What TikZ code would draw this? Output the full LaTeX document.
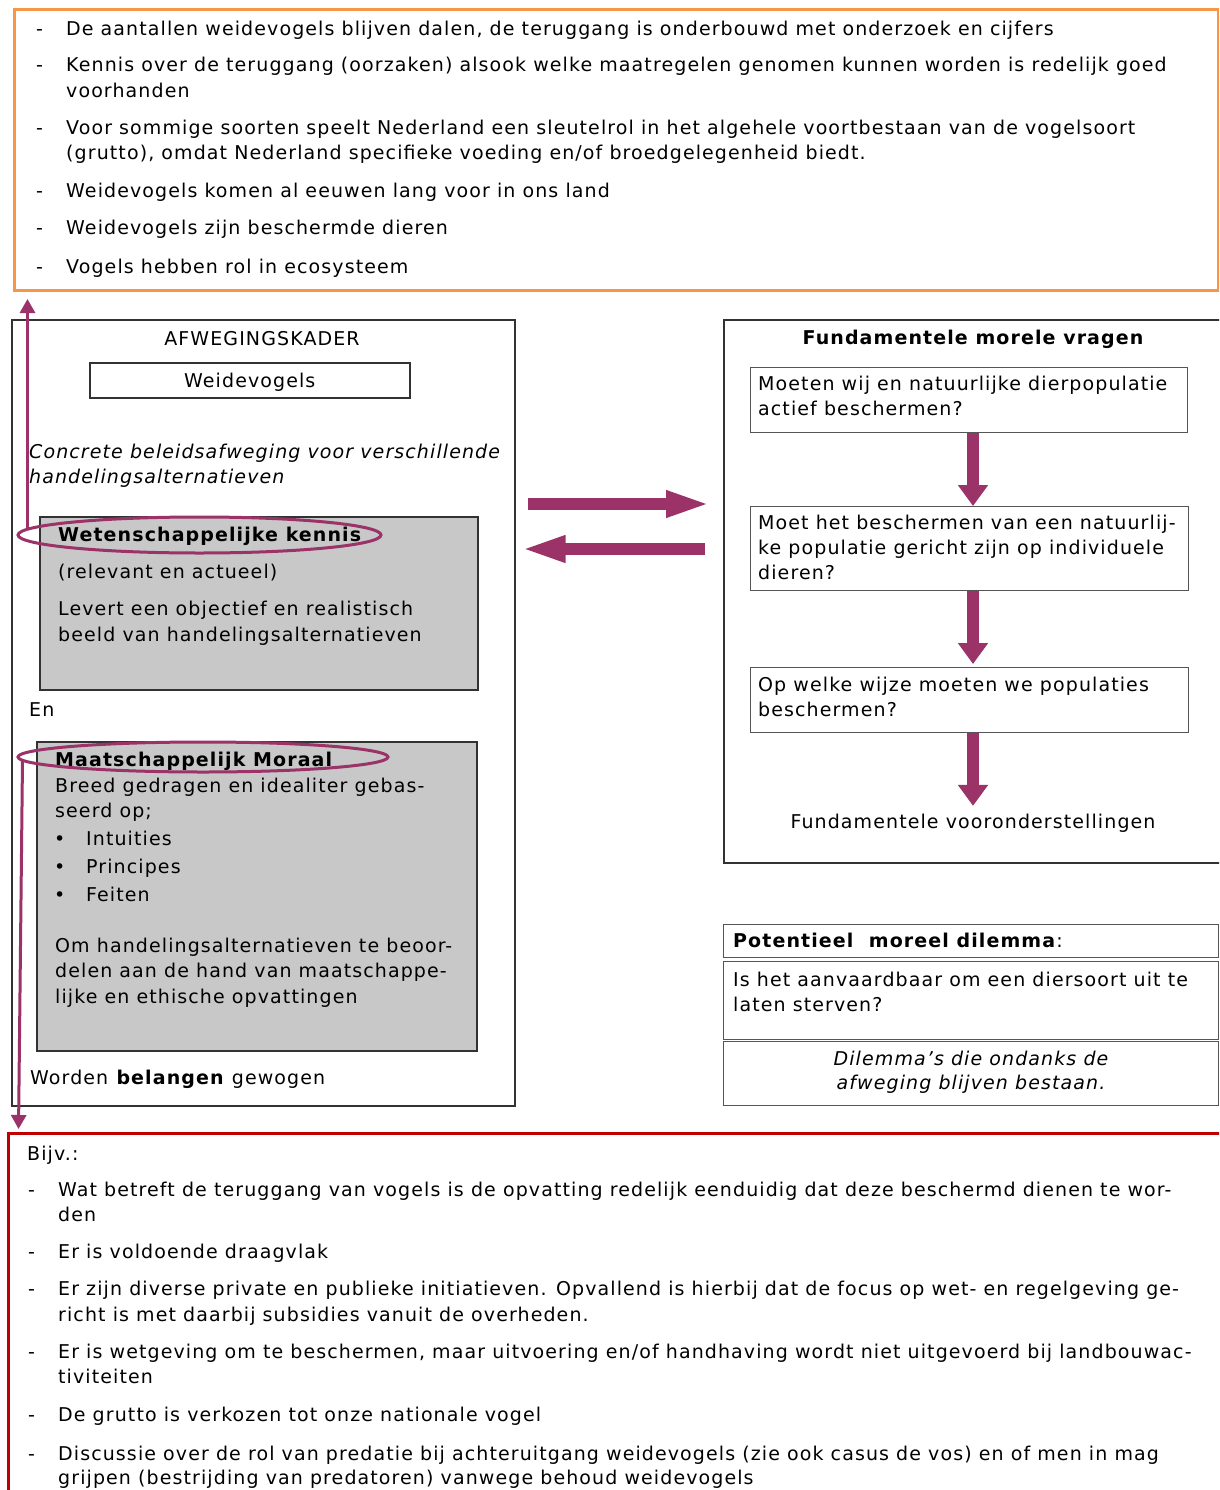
\documentclass[tikz,border=0pt]{standalone}
\usepackage{fontspec}
\setmainfont{DejaVu Sans}[LetterSpace=5.8]
\usetikzlibrary{arrows.meta,shapes.geometric,calc}
\definecolor{orangeb}{RGB}{247,150,70}
\definecolor{redb}{RGB}{192,0,0}
\definecolor{plum}{RGB}{155,50,104}
\definecolor{boxgray}{RGB}{200,200,200}
\definecolor{edgedark}{RGB}{50,50,50}
\definecolor{edgegray}{RGB}{85,85,85}
\newcommand{\tline}[4]{\node[txt] (#1) at (#2,#3) {#4};}
\begin{document}
\begin{tikzpicture}[x=1pt,y=-1pt,
  txt/.style={anchor=west, inner sep=0pt, text height=13.9pt, text depth=0pt, font=\fontsize{19}{25}\selectfont},
  ctxt/.style={txt, anchor=center},
  frame/.style={draw, anchor=north west, inner sep=0pt},
  graybox/.style={frame, draw=edgedark, fill=boxgray, line width=1.5pt},
  qbox/.style={frame, draw=edgegray, line width=1.3pt},
  ring/.style={ellipse, draw=plum, line width=3pt, inner sep=0pt},
  thinarrow/.style={draw=plum, line width=3pt, -{Triangle[length=14pt,width=15pt]}},
  blockh/.style={draw=plum, line width=12pt, -{Triangle[length=45pt,width=24pt]}},
  blockv/.style={draw=plum, line width=12pt, -{Triangle[length=21pt,width=29pt]}}
]
\useasboundingbox (0,0) rectangle (1219,1490);
\clip (0,0) rectangle (1219,1490);

% ---------- outer frames ----------
\node[frame, draw=orangeb, line width=3pt, minimum width=1204pt, minimum height=281pt] (obox) at (13,8) {};
\node[frame, draw=redb, line width=3pt, minimum width=1240pt, minimum height=400pt] (rbox) at (7,1132) {};
\node[frame, draw=edgedark, line width=1.5pt, minimum width=503pt, minimum height=786pt] (lbox) at (11,319) {};
\node[frame, draw=edgedark, line width=1.5pt, minimum width=520pt, minimum height=543pt] (fbox) at (723,319) {};

% ---------- left box content ----------
\node[frame, draw=edgedark, line width=1.5pt, minimum width=320pt, minimum height=35pt] (wbox) at (89,362) {};
\node[graybox, minimum width=438pt, minimum height=173pt] (g1) at (39,516) {};
\node[graybox, minimum width=440pt, minimum height=309pt] (g2) at (36,741) {};

% ---------- right box content ----------
\node[qbox, minimum width=437pt, minimum height=65pt] (q1) at (750,367) {};
\node[qbox, minimum width=438pt, minimum height=84pt] (q2) at (750,506) {};
\node[qbox, minimum width=438pt, minimum height=65pt] (q3) at (750,667) {};

% ---------- dilemma boxes ----------
\node[qbox, minimum width=495pt, minimum height=33pt] (dA) at (723,924) {};
\node[qbox, minimum width=495pt, minimum height=78pt] (dB) at (723,961) {};
\node[qbox, minimum width=495pt, minimum height=64pt] (dC) at (723,1041) {};

% ---------- orange box text ----------
\tline{od1}{36}{29}{-}
\tline{ot1}{66}{29}{De aantallen weidevogels blijven dalen, de teruggang is onderbouwd met onderzoek en cijfers}
\tline{od2}{36}{65}{-}
\tline{ot2}{66}{65}{Kennis over de teruggang (oorzaken) alsook welke maatregelen genomen kunnen worden is redelijk goed}
\tline{ot2b}{66}{91}{voorhanden}
\tline{od3}{36}{128}{-}
\tline{ot3}{66}{128}{Voor sommige soorten speelt Nederland een sleutelrol in het algehele voortbestaan van de vogelsoort}
\tline{ot3b}{66}{153}{(grutto), omdat Nederland specifieke voeding en/of broedgelegenheid biedt.}
\tline{od4}{36}{191}{-}
\tline{ot4}{66}{191}{Weidevogels komen al eeuwen lang voor in ons land}
\tline{od5}{36}{228}{-}
\tline{ot5}{66}{228}{Weidevogels zijn beschermde dieren}
\tline{od6}{36}{267}{-}
\tline{ot6}{66}{267}{Vogels hebben rol in ecosysteem}

% ---------- left box text ----------
\node[ctxt] (afw) at (262,339) {AFWEGINGSKADER};
\node[ctxt] (wv) at (wbox.center) {Weidevogels};
\tline{it1}{29}{452}{\itshape Concrete beleidsafweging voor verschillende}
\tline{it2}{29}{477}{\itshape handelingsalternatieven}
\tline{wk1}{58}{535}{\bfseries Wetenschappelijke kennis}
\tline{wk2}{58}{572}{(relevant en actueel)}
\tline{wk3}{58}{609}{Levert een objectief en realistisch}
\tline{wk4}{58}{635}{beeld van handelingsalternatieven}
\tline{en}{29}{710}{En}
\tline{mm1}{55}{760}{\bfseries Maatschappelijk Moraal}
\tline{mm2}{55}{786}{Breed gedragen en idealiter gebas-}
\tline{mm3}{55}{811}{seerd op;}
\tline{b1}{54}{839}{•}
\tline{mb1}{86}{839}{Intuities}
\tline{b2}{54}{867}{•}
\tline{mb2}{86}{867}{Principes}
\tline{b3}{54}{895}{•}
\tline{mb3}{86}{895}{Feiten}
\tline{mm4}{55}{946}{Om handelingsalternatieven te beoor-}
\tline{mm5}{55}{971}{delen aan de hand van maatschappe-}
\tline{mm6}{55}{997}{lijke en ethische opvattingen}
\tline{wg}{30}{1078}{Worden \textbf{belangen} gewogen}

% ---------- right box text ----------
\node[ctxt] (fmv) at (973,338) {\bfseries Fundamentele morele vragen};
\tline{q1a}{758}{384}{Moeten wij en natuurlijke dierpopulatie}
\tline{q1b}{758}{409}{actief beschermen?}
\tline{q2a}{758}{523}{Moet het beschermen van een natuurlij-}
\tline{q2b}{758}{548}{ke populatie gericht zijn op individuele}
\tline{q2c}{758}{573}{dieren?}
\tline{q3a}{758}{685}{Op welke wijze moeten we populaties}
\tline{q3b}{758}{710}{beschermen?}
\node[ctxt] (fv) at (973,822) {Fundamentele vooronderstellingen};

\tline{dAt}{733}{941}{\textbf{Potentieel\ \ moreel dilemma}:}
\tline{dBa}{733}{980}{Is het aanvaardbaar om een diersoort uit te}
\tline{dBb}{733}{1005}{laten sterven?}
\node[ctxt] (dCa) at (971,1059) {\itshape Dilemma’s die ondanks de};
\node[ctxt] (dCb) at (971,1083) {\itshape afweging blijven bestaan.};

% ---------- red box text ----------
\tline{bijv}{27}{1154}{Bijv.:}
\tline{rd1}{28}{1190}{-}
\tline{rt1}{58}{1190}{Wat betreft de teruggang van vogels is de opvatting redelijk eenduidig dat deze beschermd dienen te wor-}
\tline{rt1b}{58}{1215}{den}
\tline{rd2}{28}{1252}{-}
\tline{rt2}{58}{1252}{Er is voldoende draagvlak}
\tline{rd3}{28}{1289}{-}
\tline{rt3}{58}{1289}{Er zijn diverse private en publieke initiatieven. Opvallend is hierbij dat de focus op wet- en regelgeving ge-}
\tline{rt3b}{58}{1315}{richt is met daarbij subsidies vanuit de overheden.}
\tline{rd4}{28}{1352}{-}
\tline{rt4}{58}{1352}{Er is wetgeving om te beschermen, maar uitvoering en/of handhaving wordt niet uitgevoerd bij landbouwac-}
\tline{rt4b}{58}{1377}{tiviteiten}
\tline{rd5}{28}{1415}{-}
\tline{rt5}{58}{1415}{De grutto is verkozen tot onze nationale vogel}
\tline{rd6}{28}{1454}{-}
\tline{rt6}{58}{1454}{Discussie over de rol van predatie bij achteruitgang weidevogels (zie ook casus de vos) en of men in mag}
\tline{rt6b}{58}{1478}{grijpen (bestrijding van predatoren) vanwege behoud weidevogels}

% ---------- rings ----------
\node[ring, minimum width=363pt, minimum height=36pt] (e1) at (199.5,535) {};
\node[ring, minimum width=370pt, minimum height=30pt] (e2) at (203,757) {};

% ---------- connectors ----------
\coordinate (up0) at ($(e1.west)+(11,-6)$);
\draw[thinarrow, shorten >=7pt] (up0) -- (up0 |- obox.south);
\coordinate (dn0) at ($(e2.west)+(6,3)$);
\coordinate (dn1) at ($(e2.west)+(2,0)$);
\draw[thinarrow, shorten >=3pt] (dn0) -- (dn1 |- rbox.north);

\coordinate (ya) at (0,504);
\coordinate (yb) at (0,549);
\draw[blockh, shorten <=12pt, shorten >=12pt] (lbox.east |- ya) -- (fbox.west |- ya);
\draw[blockh, shorten <=18pt, shorten >=5pt] (fbox.west |- yb) -- (lbox.east |- yb);

\draw[blockv, shorten >=0pt] (fv |- q1.south) -- (fv |- q2.north);
\draw[blockv, shorten >=3pt] (fv |- q2.south) -- (fv |- q3.north);
\draw[blockv, shorten >=9pt] (fv |- q3.south) -- (fv.north);
\end{tikzpicture}
\end{document}
